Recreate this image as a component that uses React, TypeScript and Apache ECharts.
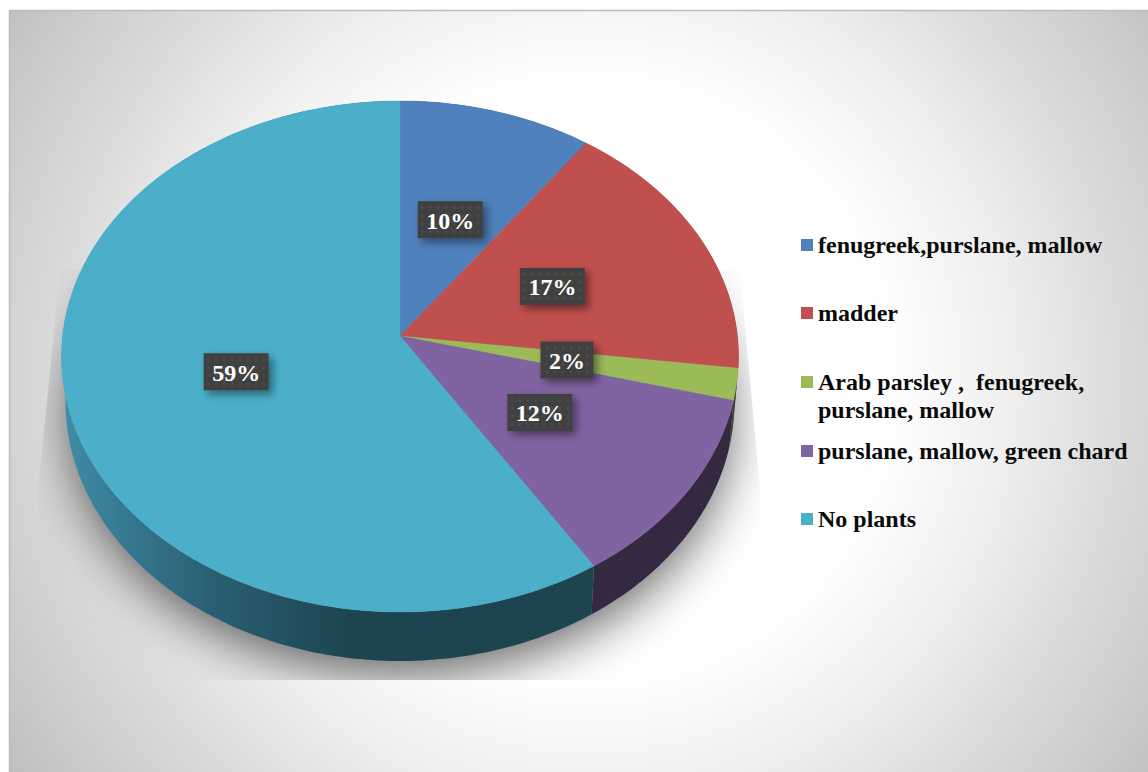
import React, { useEffect, useRef } from "react";
import * as echarts from "echarts";

const categories = [
  "fenugreek,purslane, mallow",
  "madder",
  "Arab parsley ,  fenugreek,\npurslane, mallow",
  "purslane, mallow, green chard",
  "No plants",
];
const shares = [10, 17, 2, 12, 59];
const sliceColors = ["#4f81bd", "#c0504d", "#9bbb59", "#8064a2", "#4bafca"];
const wallColors = ["#2b4768", "#6c2d2b", "#3a3d30", "#352942", "#1d4550"];
const legendRowCentres = [245, 313, 382, 451, 519];

const SERIF = '"Liberation Serif", "Times New Roman", serif';
const total = shares.reduce((a, b) => a + b, 0);

// Perspective view of the pie disc: the hub sits above the middle of the rim ellipse.
const HUB_X = 400;
const HUB_Y = 336;
const WARP = -41 / 511;
const SPREAD_Y = 226.9;
const SPREAD_X = 337.4;
const RIM_MID_Y = 356.5;

function onTop(angle: number, r = 1): [number, number] {
  const u = r * Math.sin(angle);
  const v = -r * Math.cos(angle);
  const w = 1 + WARP * v;
  return [HUB_X + (SPREAD_X * u) / w, (HUB_Y + SPREAD_Y * v) / w];
}

function onBase(angle: number): [number, number] {
  const [x, y] = onTop(angle);
  return [HUB_X + 0.988 * (x - HUB_X), (y - RIM_MID_Y) * (259 / 255.5) + 402];
}

function startAngle(i: number) {
  const before = shares.slice(0, i).reduce((a, b) => a + b, 0);
  return (before / total) * Math.PI * 2;
}

function arc(from: number, to: number, fn: (a: number) => [number, number]) {
  const steps = Math.max(2, Math.ceil((to - from) / (Math.PI / 180)));
  const pts: [number, number][] = [];
  for (let k = 0; k <= steps; k++) pts.push(fn(from + ((to - from) * k) / steps));
  return pts;
}

function dotTile(): string {
  const c = document.createElement("canvas");
  c.width = 8;
  c.height = 8;
  const g = c.getContext("2d")!;
  g.fillStyle = "#414141";
  g.fillRect(0, 0, 8, 8);
  g.fillStyle = "#4d4d4d";
  g.beginPath();
  g.arc(4, 4, 1.4, 0, Math.PI * 2);
  g.fill();
  return c.toDataURL();
}

export default function App() {
  const ref = useRef<HTMLDivElement>(null);

  useEffect(() => {
    document.body.style.margin = "0";
    const chart = echarts.init(ref.current!, undefined, { renderer: "svg" });
    const tile = dotTile();

    const legendGraphics: any[] = [];
    categories.forEach((name, i) => {
      legendGraphics.push({
        type: "rect",
        shape: { x: 801, y: legendRowCentres[i] - 6, width: 12, height: 12 },
        style: { fill: sliceColors[i] },
      });
      legendGraphics.push({
        type: "text",
        x: 818,
        y: legendRowCentres[i] - 14,
        style: {
          text: name,
          font: `bold 24px ${SERIF}`,
          fill: "#0a0a0a",
          lineHeight: 28,
          verticalAlign: "top",
        },
      });
    });

    chart.setOption({
      animation: false,
      graphic: [
        {
          type: "rect",
          z: 0,
          shape: { x: 9.5, y: 10.5, width: 1140, height: 763 },
          style: {
            fill: new echarts.graphic.RadialGradient(
              590,
              380,
              700,
              [
                { offset: 0, color: "#ffffff" },
                { offset: 0.42, color: "#ffffff" },
                { offset: 0.6, color: "#efefef" },
                { offset: 0.75, color: "#dcdcdc" },
                { offset: 0.86, color: "#d0d0d0" },
                { offset: 1, color: "#bfbfbf" },
              ],
              true
            ),
            stroke: "#bdbdbd",
            lineWidth: 1.5,
          },
        },
        ...legendGraphics,
      ],
      series: [
        {
          // soft cast shadow under the disc, cropped by its slanted frame
          type: "custom",
          coordinateSystem: "none",
          silent: true,
          z: 1,
          data: [0],
          renderItem: () => ({
            type: "group",
            clipPath: {
              type: "polygon",
              shape: {
                points: [
                  [60, 270],
                  [740, 270],
                  [760, 490],
                  [760, 680],
                  [38, 680],
                  [38, 490],
                ],
              },
            },
            children: [
              {
                type: "ellipse",
                shape: { cx: 400, cy: 404, rx: 330, ry: 256 },
                style: {
                  fill: "#9a9a9a",
                  shadowBlur: 52,
                  shadowOffsetY: 14,
                  shadowColor: "rgba(0,0,0,0.62)",
                },
              },
            ],
          }),
        },
        {
          // side walls
          type: "custom",
          coordinateSystem: "none",
          silent: true,
          z: 2,
          data: shares,
          renderItem: (params: any) => {
            const i = params.dataIndex;
            const a0 = startAngle(i);
            const a1 = a0 + (shares[i] / total) * Math.PI * 2;
            const top = arc(a0, a1, (a) => onTop(a));
            const base = arc(a0, a1, onBase).reverse();
            const fill =
              i === shares.length - 1
                ? new echarts.graphic.LinearGradient(
                    65,
                    0,
                    350,
                    0,
                    [
                      { offset: 0, color: "#3f8ba6" },
                      { offset: 0.5, color: "#2a6074" },
                      { offset: 1, color: wallColors[i] },
                    ],
                    true
                  )
                : wallColors[i];
            return {
              type: "polygon",
              shape: { points: [...top, ...base] },
              style: { fill },
            };
          },
        },
        {
          // top faces of the slices
          type: "custom",
          coordinateSystem: "none",
          silent: true,
          z: 3,
          data: shares,
          renderItem: (params: any) => {
            const i = params.dataIndex;
            const a0 = startAngle(i);
            const a1 = a0 + (shares[i] / total) * Math.PI * 2;
            return {
              type: "polygon",
              shape: { points: [[HUB_X, HUB_Y], ...arc(a0, a1, (a) => onTop(a))] },
              style: { fill: sliceColors[i], stroke: sliceColors[i], lineWidth: 0.4 },
            };
          },
        },
        {
          // percentage tags, halfway out along each slice's middle
          type: "custom",
          coordinateSystem: "none",
          silent: true,
          z: 4,
          data: shares,
          renderItem: (params: any) => {
            const i = params.dataIndex;
            const mid = startAngle(i) + (shares[i] / total) * Math.PI;
            const [x, y] = onTop(mid, 0.5);
            const w = shares[i] < 10 ? 53 : 65;
            const h = 37;
            return {
              type: "group",
              x,
              y,
              children: [
                {
                  type: "rect",
                  shape: { x: -w / 2, y: -h / 2, width: w, height: h },
                  style: {
                    fill: { image: tile, repeat: "repeat" },
                    shadowBlur: 9,
                    shadowOffsetX: 4,
                    shadowOffsetY: 4,
                    shadowColor: "rgba(0,0,0,0.45)",
                  },
                },
                {
                  type: "text",
                  style: {
                    text: `${shares[i]}%`,
                    x: 0,
                    y: 1,
                    font: `bold 24px ${SERIF}`,
                    fill: "#ffffff",
                    align: "center",
                    verticalAlign: "middle",
                  },
                },
              ],
            };
          },
        },
      ],
    });

    return () => chart.dispose();
  }, []);

  return (
    <div
      ref={ref}
      style={{ position: "fixed", left: 0, top: 0, width: 1148, height: 772, background: "#fff" }}
    />
  );
}
